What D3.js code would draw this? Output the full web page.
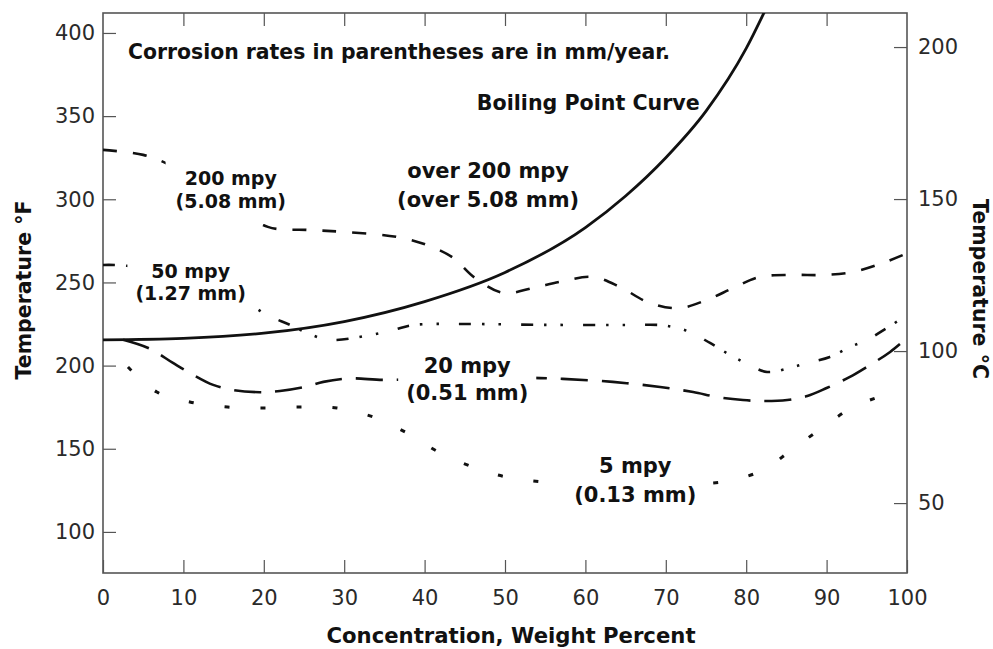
<!DOCTYPE html>
<html><head><meta charset="utf-8">
<script src="https://cdn.jsdelivr.net/npm/d3@7"></script>
<style>
body{margin:0;background:#fff}
svg{display:block;font-family:"DejaVu Sans",sans-serif}
</style>
</head><body>
<svg id="chart" width="993" height="649"></svg>
<script>
// ---------- data ----------
const xTicks = [0,10,20,30,40,50,60,70,80,90,100];
const yTicksF = [100,150,200,250,300,350,400];
const yTicksC = [50,100,150,200];

const boilConc = [0,10,20,30,40,50,60,65,70,75,80,82.4];
const boilF    = [215.5,216.4,219.5,226.5,238.5,256,283,302,325,353,390.7,414];

const mpy200Conc = [0,5,8.3,14.4,20.5,25.4,30,36.6,40.3,43.5,46.2,49.8,53.5,56.8,60.9,64.3,67.7,71.5,75.1,78.4,81.7,85.8,89.6,93.3,97,100];
const mpy200F    = [329.7,326.7,320.6,302,283.4,281.6,280.4,277.3,272.5,265,253,243.7,246.7,250.3,253.3,247.3,238.3,234.5,239.5,246.7,253.3,254.5,254.5,256.3,261.7,267.5];

const mpy50Conc = [0,3,10,17.9,20.4,23.3,25.4,28.2,33.2,36.1,38.6,45,55,65,69.3,70.9,73,75.5,78,79.9,82.6,85.4,87.6,90.4,92.9,95,97.5,100];
const mpy50F    = [260.5,260,252,237.7,230.4,224.4,219.6,215.4,218.4,221.4,224.4,225,224.5,224.4,224.4,223.2,220.2,213.6,206.4,201.6,196.2,198.6,201.6,205.2,211.2,215.4,222.6,230.4];

const mpy20Conc = [2.5,5.8,8.7,10.8,13.7,16.2,19.5,22,25.4,27.4,30.7,34.8,40,47,53.5,57.2,63.4,69.3,73.4,76.4,79.6,82.1,85.1,87.6,90,92.9,95,97.9,100];
const mpy20F    = [215.5,210.2,201.6,195.6,188.4,185.3,184,184.7,187.5,190.2,192.3,191.4,192,192.5,192.6,192,190.2,187.1,184.1,181.1,179.3,178.7,179.3,181.7,186.5,193.2,199.2,208.2,216.6];

const mpy5Conc = [3.1,6.7,10.8,15.5,20.1,24.8,29.1,33.6,37.8,41.7,46,50.2,54.7,60,66,72,77.7,82.1,85.8,89.6,93.3,97.6];
const mpy5F    = [199.2,184.1,178.1,175.1,174.5,175.1,174.5,169.1,159.5,148.1,139,133,130,128,127.5,128.5,130.6,137.2,149.9,163.1,175.1,183];

const labelTexts = {
  note: "Corrosion rates in parentheses are in mm/year.",
  boil: "Boiling Point Curve",
  over: ["over 200 mpy","(over 5.08 mm)"],
  m200: ["200 mpy","(5.08 mm)"],
  m50:  ["50 mpy","(1.27 mm)"],
  m20:  ["20 mpy","(0.51 mm)"],
  m5:   ["5 mpy","(0.13 mm)"]
};
const xTitle = "Concentration, Weight Percent";
const yTitleF = "Temperature °F";
const yTitleC = "Temperature °C";

// ---------- layout ----------
const svg = d3.select("#chart");
const L = 103, R = 907, T = 13, B = 573;
const x = d3.scaleLinear().domain([0,100]).range([L,R]);
const y = d3.scaleLinear().domain([75.3,412]).range([B,T]);
const yC = d3.scaleLinear().domain([27,211.2]).range([B,T]);

const axisColor = "#555";
const tickFont = 21;

function styleAxis(g){
  g.select(".domain").remove();
  g.selectAll(".tick line").attr("stroke", axisColor).attr("stroke-width",1.2);
  g.selectAll(".tick text").attr("fill","#2a2a2a").attr("font-size",tickFont)
    .attr("font-family","'DejaVu Sans',sans-serif");
}

svg.append("g").attr("transform",`translate(${L},0)`)
  .call(d3.axisLeft(y).tickValues(yTicksF).tickSizeInner(-13).tickSizeOuter(0).tickPadding(8))
  .call(styleAxis);
svg.append("g").attr("transform",`translate(0,${B})`)
  .call(d3.axisBottom(x).tickValues(xTicks).tickSizeInner(-13).tickSizeOuter(0).tickPadding(17))
  .call(styleAxis);
svg.append("g").attr("transform",`translate(0,${T})`)
  .call(d3.axisTop(x).tickValues(xTicks.slice(1,-1)).tickSizeInner(-13).tickSizeOuter(0).tickFormat(""))
  .call(styleAxis);
svg.append("g").attr("transform",`translate(${R},0)`)
  .call(d3.axisRight(yC).tickValues(yTicksC).tickSizeInner(-13).tickSizeOuter(0).tickPadding(11))
  .call(styleAxis);

svg.append("rect").attr("x",L).attr("y",T).attr("width",R-L).attr("height",B-T)
  .attr("fill","none").attr("stroke",axisColor).attr("stroke-width",1.6);

// clip
svg.append("clipPath").attr("id","plotclip").append("rect")
  .attr("x",L).attr("y",T).attr("width",R-L).attr("height",B-T);

const zip = (a,b)=>a.map((v,i)=>[v,b[i]]);
const mkLine = curve => d3.line().x(d=>x(d[0])).y(d=>y(d[1])).curve(curve);

const curves = [
  {data: zip(boilConc,boilF), dash: null, w: 2.8, curve: d3.curveMonotoneX},
  {data: zip(mpy200Conc,mpy200F), dash: "14,16", w: 2.6, curve: d3.curveCatmullRom.alpha(0.5)},
  {data: zip(mpy50Conc,mpy50F), dash: "12,11,2.5,14,2.5,20", w: 2.6, curve: d3.curveCatmullRom.alpha(0.5)},
  {data: zip(mpy20Conc,mpy20F), dash: "27,14", w: 2.6, curve: d3.curveCatmullRom.alpha(0.5)},
  {data: zip(mpy5Conc,mpy5F), dash: "5,31", w: 3, curve: d3.curveCatmullRom.alpha(0.5)}
];
const lg = svg.append("g").attr("clip-path","url(#plotclip)");
curves.forEach(c=>{
  lg.append("path").attr("d",mkLine(c.curve)(c.data)).attr("fill","none")
    .attr("stroke","#111").attr("stroke-width",c.w)
    .attr("stroke-dasharray",c.dash).attr("stroke-linecap","butt");
});

// ---------- annotations ----------
const ann = svg.append("g").attr("font-weight","bold").attr("fill","#111");
function addLabel(lines, cx, ys, size, bg, padX, padY){
  const g = ann.append("g");
  lines.forEach((t,i)=>{
    g.append("text").attr("x",x(cx)).attr("y",y(ys[i])).attr("text-anchor","middle")
      .attr("font-size",size).text(t);
  });
  if(bg){
    const bb = g.node().getBBox();
    g.insert("rect",":first-child").attr("x",bb.x-padX).attr("y",bb.y-padY)
      .attr("width",bb.width+2*padX).attr("height",bb.height+2*padY).attr("fill","#fff");
  }
}
ann.append("text").attr("x",x(3.1)).attr("y",y(384.4)).attr("font-size",20.4).text(labelTexts.note);
ann.append("text").attr("x",x(46.5)).attr("y",y(353.7)).attr("font-size",20.6).text(labelTexts.boil);
addLabel(labelTexts.over, 47.9, [312.8,295.4], 21, false, 0, 0);
addLabel(labelTexts.m200, 15.9, [308.6,294.8], 19, true, 10, 12);
addLabel(labelTexts.m50, 10.9, [252.7,239.5], 19, true, 8, 5);
addLabel(labelTexts.m20, 45.3, [195.6,179.3], 21, true, 8, 4);
addLabel(labelTexts.m5, 66.2, [135.4,118.0], 21, true, 6, 3);

// ---------- axis titles ----------
svg.append("text").attr("x",511).attr("y",643).attr("text-anchor","middle")
  .attr("font-weight","bold").attr("font-size",21.2).attr("fill","#111").text(xTitle);
svg.append("text").attr("transform","translate(31,290) rotate(-90)").attr("text-anchor","middle")
  .attr("font-weight","bold").attr("font-size",20.5).attr("fill","#111").text(yTitleF);
svg.append("text").attr("transform","translate(973,289) rotate(90)").attr("text-anchor","middle")
  .attr("font-weight","bold").attr("font-size",20.5).attr("fill","#111").text(yTitleC);
</script>
</body></html>
